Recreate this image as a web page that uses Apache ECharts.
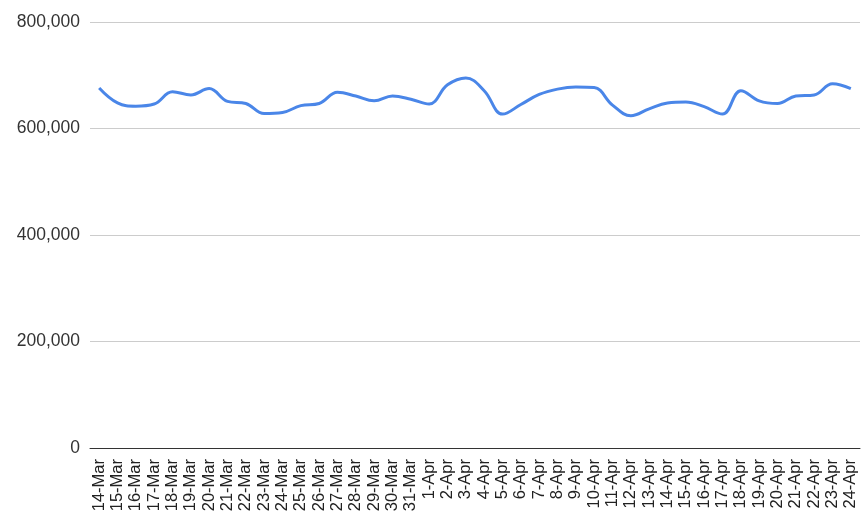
<!DOCTYPE html>
<html><head><meta charset="utf-8">
<script src="https://cdn.jsdelivr.net/npm/echarts@6/dist/echarts.min.js"></script>
<style>html,body{margin:0;padding:0;background:#fff}#c{width:867px;height:526px}</style>
</head><body><div id="c"></div>
<script>
const categories = ['14-Mar','15-Mar','16-Mar','17-Mar','18-Mar','19-Mar','20-Mar','21-Mar','22-Mar','23-Mar','24-Mar','25-Mar','26-Mar','27-Mar','28-Mar','29-Mar','30-Mar','31-Mar','1-Apr','2-Apr','3-Apr','4-Apr','5-Apr','6-Apr','7-Apr','8-Apr','9-Apr','10-Apr','11-Apr','12-Apr','13-Apr','14-Apr','15-Apr','16-Apr','17-Apr','18-Apr','19-Apr','20-Apr','21-Apr','22-Apr','23-Apr','24-Apr'];
const values = [676000,648000,642000,646000,669000,663000,675000,651000,647000,628000,630000,643000,647000,668000,661000,652000,661000,655000,646000,682000,695000,671000,627000,645000,664000,674000,678000,677000,644000,624000,637000,648000,650000,641000,627000,671000,652000,647000,661000,663000,684000,675000];
const yTicks = {min:0, max:800000, interval:200000};
const chart = echarts.init(document.getElementById('c'));
chart.setOption({
  animation:false,
  grid:{left:90, right:7, top:22, bottom:78},
  xAxis:{type:'category', data:categories, boundaryGap:true,
    axisLine:{lineStyle:{color:'#333', width:1}}, axisTick:{show:false},
    axisLabel:{rotate:90, interval:0, fontFamily:'Liberation Sans, Arial', fontSize:16.5, color:'#222', margin:11}},
  yAxis:{type:'value', min:yTicks.min, max:yTicks.max, interval:yTicks.interval,
    axisLine:{show:false}, axisTick:{show:false},
    splitLine:{lineStyle:{color:'#cccccc'}},
    axisLabel:{fontFamily:'Liberation Sans, Arial', fontSize:17.5, color:'#333', margin:10,
      formatter:v=>v.toLocaleString('en-US')}},
  series:[{type:'line', data:values, smooth:0.4, showSymbol:false,
    lineStyle:{color:'#4a86e8', width:3}}]
});
</script></body></html>
